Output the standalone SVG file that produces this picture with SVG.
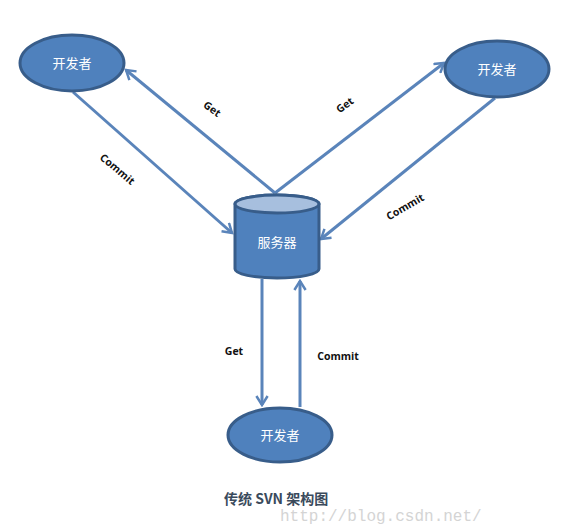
<svg xmlns="http://www.w3.org/2000/svg" width="572" height="528" viewBox="0 0 572 528">
<style>
.node{fill:#4F81BD;stroke:#385D8A;stroke-width:3}
.ntext{fill:#fff;font-family:"Noto Sans CJK SC","Noto Sans",sans-serif;font-size:13px;text-anchor:middle}
.conn{stroke:#5A84BA;stroke-width:3;fill:none;marker-end:url(#arr)}
.lbl{font-family:"Open Sans","Liberation Sans",sans-serif;font-weight:bold;font-size:10.5px;fill:#111;text-anchor:middle}
</style>
<defs>
<marker id="arr" viewBox="0 0 12 12" refX="10" refY="6" markerWidth="4.5" markerHeight="4.5" orient="auto" markerUnits="strokeWidth">
<path d="M2,1 L10,6 L2,11" fill="none" stroke="#5A84BA" stroke-width="2.2" stroke-linejoin="miter"/>
</marker>
</defs>
<rect width="572" height="528" fill="#fff"/>
<g id="connectors">
<line class="conn" x1="73" y1="92" x2="232" y2="233"/>
<line class="conn" x1="275" y1="193" x2="126" y2="70"/>
<line class="conn" x1="275" y1="193" x2="444" y2="63"/>
<line class="conn" x1="495" y1="98" x2="321" y2="239"/>
<line class="conn" x1="262" y1="279" x2="262" y2="405"/>
<line class="conn" x1="300" y1="407" x2="300" y2="281"/>
<text class="lbl" transform="translate(210,112) rotate(36)">Get</text>
<text class="lbl" transform="translate(115,172) rotate(40)">Commit</text>
<text class="lbl" transform="translate(347,108) rotate(-36)">Get</text>
<text class="lbl" transform="translate(407,210) rotate(-30)">Commit</text>
<text class="lbl" x="234" y="355">Get</text>
<text class="lbl" x="338" y="360">Commit</text>
</g>
<g id="dev-top-left">
<ellipse class="node" cx="72" cy="63" rx="52" ry="28"/>
<text class="ntext" x="72" y="68">开发者</text>
</g>
<g id="dev-top-right">
<ellipse class="node" cx="497" cy="69" rx="52" ry="28"/>
<text class="ntext" x="497" y="74">开发者</text>
</g>
<g id="dev-bottom">
<ellipse class="node" cx="280" cy="435" rx="52" ry="27"/>
<text class="ntext" x="280" y="440">开发者</text>
</g>
<g id="server">
<path class="node" d="M235,204 L235,269 A42,9 0 0 0 319,269 L319,204 A42,9 0 0 0 235,204 Z"/>
<ellipse cx="277" cy="204" rx="42" ry="9" fill="#A7BFDE" stroke="#385D8A" stroke-width="3"/>
<text class="ntext" x="277" y="247">服务器</text>
</g>
<g id="caption">
<text x="280" y="521" font-family="'Liberation Mono',monospace" font-size="16" fill="#d4d4d4">http://blog.csdn.net/</text>
<text x="224" y="504" font-family="'Noto Sans CJK SC','Noto Sans',sans-serif" font-weight="bold" font-size="14" fill="#3A4A5C">传统 SVN 架构图</text>
</g>
</svg>
